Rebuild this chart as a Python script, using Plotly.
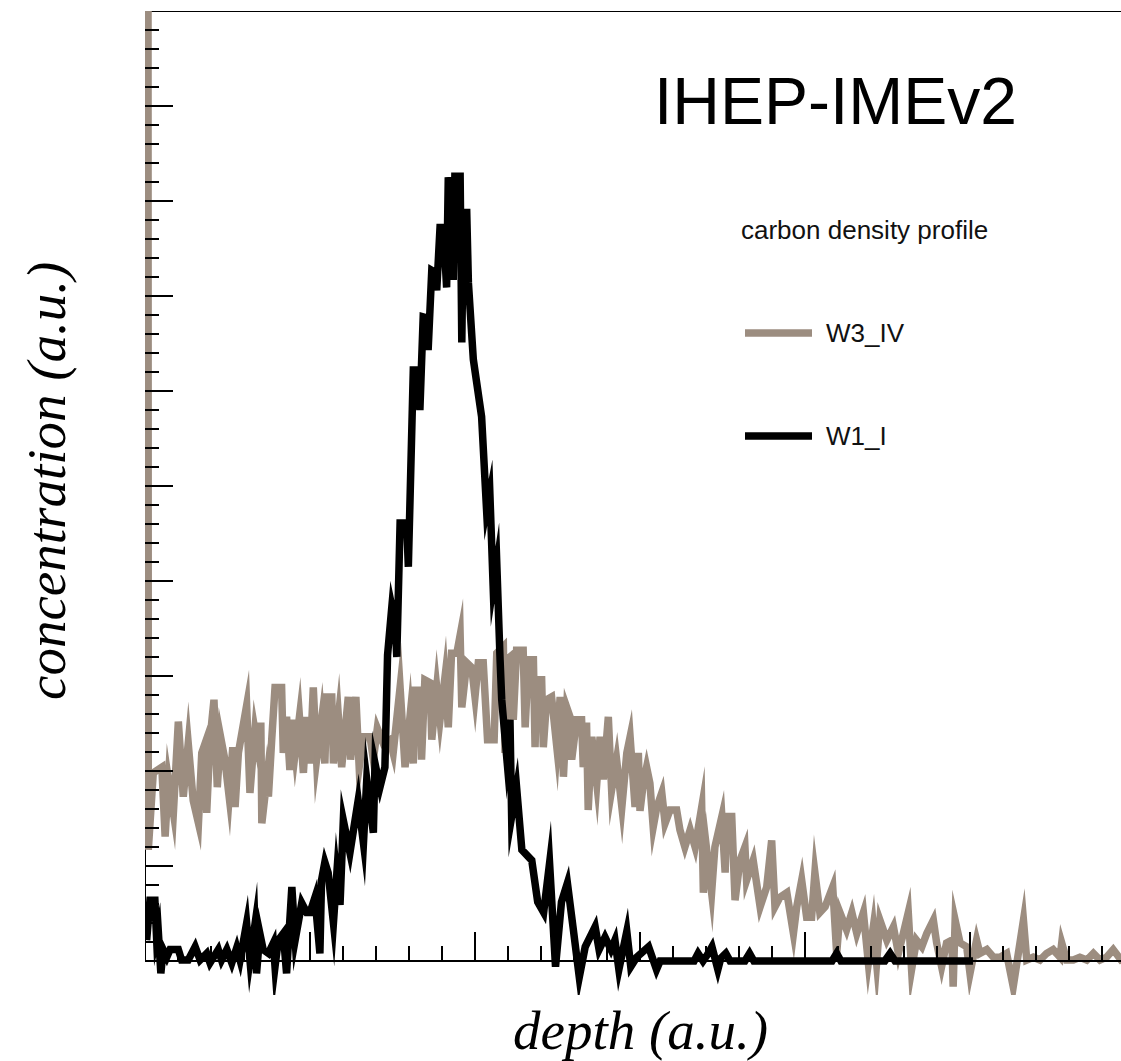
import plotly.graph_objects as go

# ---- data (depth in a.u., concentration in a.u.) ----
w3_depth = [0.9, 1.0, 2.5, 5.1, 6.1, 7.1, 8.6, 10.1, 11.6, 13.1,
            14.6, 16.2, 17.2, 18.2, 18.7, 19.7, 20.9, 21.9, 22.9, 24.2,
            25.5, 26.6, 27.3, 28.3, 30.8, 31.8, 33.3, 34.3, 35.1, 35.4,
            36.9, 37.4, 38.4, 39.4, 41.4, 41.9, 42.9, 43.9, 44.5, 45.5,
            46.8, 48.0, 49.0, 50.0, 51.0, 52.0, 53.5, 54.5, 55.1, 56.6,
            57.1, 58.6, 59.6, 61.6, 62.3, 63.9, 64.9, 66.2, 68.2, 69.2,
            70.4, 72.2, 74.2, 75.2, 77.3, 78.8, 80.3, 81.3, 81.8, 83.3,
            83.8, 84.8, 86.4, 86.9, 88.4, 89.4, 90.9, 91.9, 92.9, 94.5,
            95.5, 96.0, 97.5, 99.0, 100.0, 101.0, 102.5, 103.8, 105.8, 106.6,
            108.6, 109.1, 109.6, 110.6, 111.6, 112.6, 114.6, 115.2, 116.2, 117.7,
            118.2, 118.7, 120.2, 120.7, 121.7, 123.2, 124.8, 125.8, 126.8, 127.8,
            128.8, 129.3, 130.8, 132.3, 132.8, 133.8, 134.3, 135.4, 136.9, 137.9,
            138.9, 140.4, 141.4, 142.9, 144.5, 146.0, 147.0, 148.5, 149.5, 150.0,
            151.0, 152.0, 153.0, 154.0, 155.1, 156.6, 157.6, 159.1, 161.1, 162.1,
            163.6, 165.2, 166.7, 168.7, 169.2, 170.2, 171.7, 172.7, 174.8, 175.8,
            176.3, 177.8, 178.8, 180.3, 181.8, 182.3, 184.3, 186.4, 188.4, 189.9,
            190.9, 192.4, 194.5, 196.5, 197.5, 199.0, 200.5, 202.0, 203.0, 204.5,
            206.1, 208.4, 209.6, 210.6, 212.6, 214.2, 215.7, 217.7, 219.2, 220.7,
            221.7, 222.7, 224.8, 226.8, 228.3, 229.8, 231.3, 232.3, 233.8, 235.4,
            236.9, 238.9, 239.9, 241.4, 242.9, 244.5, 244.9, 245.5, 247.0, 249.0,
            250.0, 252.0, 253.0, 255.1, 257.1, 259.1, 261.1, 263.1, 266.2, 267.2,
            269.2, 271.2, 273.2, 275.2, 277.3, 277.8, 279.3, 281.3, 283.3, 285.4,
            287.4, 289.4, 291.4, 293.4, 295.8, 298.5]
w3_conc = [115, 11.7, 19.8, 20.4, 13.1, 19.1, 15.6, 25.2, 17.3, 22.9,
           16.9, 14.5, 21.9, 22.9, 15.6, 23.3, 27.5, 18.3, 23.6, 21.2,
           17.3, 22.5, 16.2, 21.9, 26.9, 17.7, 24.3, 22.2, 25.1, 14.5,
           19.1, 17.3, 23.3, 28.8, 28.8, 21.9, 25.7, 20.1, 25.4, 21.9,
           25.7, 19.8, 25.7, 20.8, 28.8, 21.2, 25.4, 20.8, 27.8, 27.8,
           20.8, 25.7, 20.4, 27.8, 21.2, 27.8, 20.4, 23.6, 23.6, 21.2,
           24.5, 22.9, 23.3, 21.9, 28.8, 20.4, 25.7, 20.8, 28.5, 28.5,
           21.2, 29.6, 29.3, 23.3, 28.8, 25.4, 29.9, 24.6, 32.4, 32.4,
           34.3, 26.7, 31.4, 30.9, 27.8, 31.4, 31.4, 23.3, 23.3, 32.4,
           33.1, 21.9, 31.7, 32.0, 25.4, 32.7, 32.7, 24.6, 31.7, 31.7,
           22.5, 29.6, 29.6, 22.5, 27.5, 27.8, 22.5, 27.8, 19.4, 26.7,
           25.7, 21.2, 25.4, 25.4, 20.4, 25.1, 15.9, 23.6, 18.7, 23.6,
           19.1, 25.7, 18.0, 21.2, 16.2, 21.9, 23.6, 16.2, 21.9, 15.8,
           18.7, 20.4, 18.7, 14.1, 16.2, 17.7, 14.5, 15.9, 15.9, 13.8,
           12.0, 13.8, 12.0, 16.2, 7.2, 11.7, 7.2, 12.0, 15.2, 9.3,
           15.2, 15.2, 6.4, 10.6, 12.0, 8.5, 10.6, 5.7, 7.8, 12.7,
           5.7, 6.7, 7.2, 2.9, 5.7, 8.5, 4.6, 4.6, 9.3, 5.1,
           5.7, 7.8, 0.8, 5.1, 3.3, 5.1, 2.9, 5.1, -0.2, 3.6,
           -0.2, 4.3, 2.2, 3.6, 0.8, 2.9, 5.1, -0.9, 2.2, 1.5,
           2.9, 4.3, 1.9, -0.6, 1.9, 2.2, -2.7, 4.3, 1.9, 1.5,
           -1.3, 2.2, 0.8, 1.2, 0.4, 0.4, 0.8, -2.7, 4.3, 0.1,
           0.4, 0.1, 0.8, 1.2, 0.4, 1.9, 0.1, 0.1, 0.4, 0.1,
           0.8, 0.1, 0.4, 1.2, 0.1, 0.3]

w1_depth = [0.5, 1.5, 3.0, 3.5, 4.0, 4.8, 5.5, 6.6, 7.6, 10.1,
            11.1, 13.1, 15.2, 16.7, 18.7, 19.7, 22.2, 23.2, 24.8, 26.3,
            27.8, 28.8, 30.8, 31.8, 33.3, 33.8, 34.8, 35.8, 37.4, 38.9,
            39.4, 40.4, 41.9, 42.9, 44.5, 45.5, 47.5, 49.0, 50.0, 51.5,
            53.0, 53.5, 54.5, 55.5, 57.1, 58.1, 59.1, 60.1, 62.1, 64.6,
            66.2, 67.2, 69.2, 69.7, 71.2, 72.7, 73.5, 74.8, 75.8, 76.3,
            77.3, 79.3, 79.8, 81.3, 82.8, 83.3, 84.3, 85.4, 85.8, 86.9,
            87.9, 88.4, 89.4, 90.4, 91.4, 91.9, 93.0, 93.4, 93.9, 95.5,
            96.0, 96.5, 97.5, 98.0, 99.5, 102.0, 103.5, 104.5, 105.5, 106.6,
            107.6, 108.1, 109.6, 110.6, 111.1, 112.6, 114.2, 117.2, 119.0, 120.8,
            122.6, 124.4, 126.2, 128.0, 129.8, 131.6, 133.4, 136.4, 137.6, 139.4,
            141.2, 142.4, 143.6, 146.0, 147.2, 149.0, 152.6, 155.0, 156.1, 166.4,
            167.6, 169.1, 170.3, 171.8, 173.6, 174.5, 176.0, 177.3, 181.8, 183.2,
            184.5, 208.2, 209.6, 210.9, 224.2, 225.8, 227.3, 250.9]
w1_conc = [2.2, 6.4, 6.4, 2.5, 3.3, -1.3, 1.2, 0.4, 1.2, 1.2,
           0.1, 0.1, 1.5, 0.1, 0.8, -0.2, 1.2, 0.1, 1.2, -0.2,
           1.4, 0.1, 4.0, 0.1, 3.8, -1.3, 2.9, 1.2, 0.8, 1.9,
           -0.6, 2.2, 2.9, -1.3, 7.8, 2.2, 6.1, 5.1, 5.1, 6.7,
           0.8, 8.5, 10.4, 9.3, 4.0, 9.1, 5.9, 14.8, 11.4, 16.9,
           12.4, 19.1, 13.5, 20.8, 18.3, 20.4, 32.2, 37.3, 35.6, 32.0,
           46.1, 46.1, 41.5, 62.2, 62.2, 58.0, 67.8, 67.7, 64.3, 72.7,
           72.5, 70.6, 77.2, 77.2, 70.9, 82.5, 79.1, 71.7, 82.6, 82.6,
           65.1, 78.8, 78.8, 71.4, 63.3, 57.3, 47.5, 49.3, 39.4, 41.9,
           31.7, 27.5, 21.5, 25.4, 15.2, 18.3, 11.7, 10.6, 6.2, 5.1,
           10.3, -0.6, 6.2, 8.2, 3.3, -1.7, 1.5, 3.6, 1.2, 2.5,
           1.2, 2.2, -0.9, 3.1, -0.6, 0.4, 1.5, -0.9, 0, 0,
           0.8, 0, 0.6, 1.5, -0.9, 0.3, 0.8, 0, 0, 0.8,
           0, 0, 0.8, 0, 0, 0.8, 0, 0]

series_names = ["W3_IV", "W1_I"]
series_colors = ["#9c8d80", "#000000"]
legend_title = "carbon density profile"
chart_label = "IHEP-IMEv2"
x_title = "depth (a.u.)"
y_title = "concentration (a.u.)"

x_major = [0, 50, 100, 150, 200, 250]
x_minor = [v for v in range(10, 300, 10) if v % 50 != 0]
y_major = [10, 20, 30, 40, 50, 60, 70, 80, 90, 100]
y_minor = [v for v in range(2, 100, 2) if v % 10 != 0]

# ---- layout geometry (pixels) ----
W, H = 1121, 1061
ML, MR, MT, MB = 145, 0, 11, 66
PW, PH = W - ML - MR, H - MT - MB
X_MAX = 295.76
Y_MIN, Y_MAX = -3.579, 100.0

def px(x):
    return (x - ML) / PW

def py(y):
    return (H - MB - y) / PH

zero_pos = (0 - Y_MIN) / (Y_MAX - Y_MIN)

fig = go.Figure()
fig.add_trace(go.Scatter(x=w3_depth, y=w3_conc, mode="lines", name=series_names[0],
                         line=dict(color=series_colors[0], width=7.5, simplify=False),
                         showlegend=False, hoverinfo="skip"))
fig.add_trace(go.Scatter(x=w1_depth, y=w1_conc, mode="lines", name=series_names[1],
                         line=dict(color=series_colors[1], width=7.5, simplify=False),
                         showlegend=False, hoverinfo="skip"))

shapes = [
    dict(type="line", xref="x", yref="y", x0=0, x1=0, y0=0, y1=Y_MAX,
         line=dict(color="black", width=2), layer="below"),
    dict(type="line", xref="paper", yref="y", x0=0, x1=1, y0=Y_MAX, y1=Y_MAX,
         line=dict(color="black", width=2), layer="below"),
    dict(type="line", xref="paper", yref="paper", x0=px(745), x1=px(812), y0=py(333), y1=py(333),
         line=dict(color=series_colors[0], width=7.5)),
    dict(type="line", xref="paper", yref="paper", x0=px(745), x1=px(812), y0=py(436), y1=py(436),
         line=dict(color=series_colors[1], width=7.5)),
]

sans = "Liberation Sans, Arial, Helvetica, sans-serif"
serif = "Liberation Serif, Times New Roman, serif"
annotations = [
    dict(text=chart_label, xref="paper", yref="paper", x=px(835), y=py(101),
         xanchor="center", yanchor="middle", showarrow=False,
         font=dict(family=sans, size=66, color="black")),
    dict(text=legend_title, xref="paper", yref="paper", x=px(739), y=py(230),
         xanchor="left", yanchor="middle", showarrow=False,
         font=dict(family=sans, size=26, color="#111111")),
    dict(text=series_names[0], xref="paper", yref="paper", x=px(824), y=py(333),
         xanchor="left", yanchor="middle", showarrow=False,
         font=dict(family=sans, size=26, color="#111111")),
    dict(text=series_names[1], xref="paper", yref="paper", x=px(824), y=py(436),
         xanchor="left", yanchor="middle", showarrow=False,
         font=dict(family=sans, size=26, color="#111111")),
    dict(text="<i>" + x_title + "</i>", xref="paper", yref="paper", x=px(640), y=py(1030),
         xanchor="center", yanchor="middle", showarrow=False,
         font=dict(family=serif, size=55, color="black")),
    dict(text="<i>" + y_title + "</i>", xref="paper", yref="paper", x=px(46), y=py(481),
         xanchor="center", yanchor="middle", showarrow=False, textangle=-90,
         font=dict(family=serif, size=55, color="black")),
]

fig.update_layout(
    width=W, height=H,
    margin=dict(l=ML, r=MR, t=MT, b=MB, pad=0),
    paper_bgcolor="white", plot_bgcolor="white",
    showlegend=False,
    shapes=shapes, annotations=annotations,
    xaxis=dict(range=[0, X_MAX], anchor="free", position=zero_pos,
               showgrid=False, zeroline=False, showline=True, linecolor="black", linewidth=2,
               ticks="inside", tickmode="array", tickvals=x_major, ticklen=28,
               tickwidth=1.5, tickcolor="black", showticklabels=False,
               minor=dict(tickmode="array", tickvals=x_minor, ticks="inside", ticklen=14,
                          tickwidth=1.5, tickcolor="black", showgrid=False)),
    yaxis=dict(range=[Y_MIN, Y_MAX], showgrid=False, zeroline=False, showline=False,
               ticks="inside", tickmode="array", tickvals=y_major, ticklen=28,
               tickwidth=1.5, tickcolor="black", showticklabels=False,
               minor=dict(tickmode="array", tickvals=y_minor, ticks="inside", ticklen=14,
                          tickwidth=1.5, tickcolor="black", showgrid=False)),
)

# sharp (miter) joins on the data lines, as in the original rendering
post_js = """
var gd = document.getElementsByClassName('plotly-graph-div')[0];
function sharpen() {
  gd.querySelectorAll('.scatterlayer path.js-line').forEach(function (p) {
    p.style.strokeLinejoin = 'miter';
    p.style.strokeMiterlimit = '12';
  });
}
sharpen();
gd.on('plotly_afterplot', sharpen);
"""

fig.write_html("out.html", post_script=post_js)
